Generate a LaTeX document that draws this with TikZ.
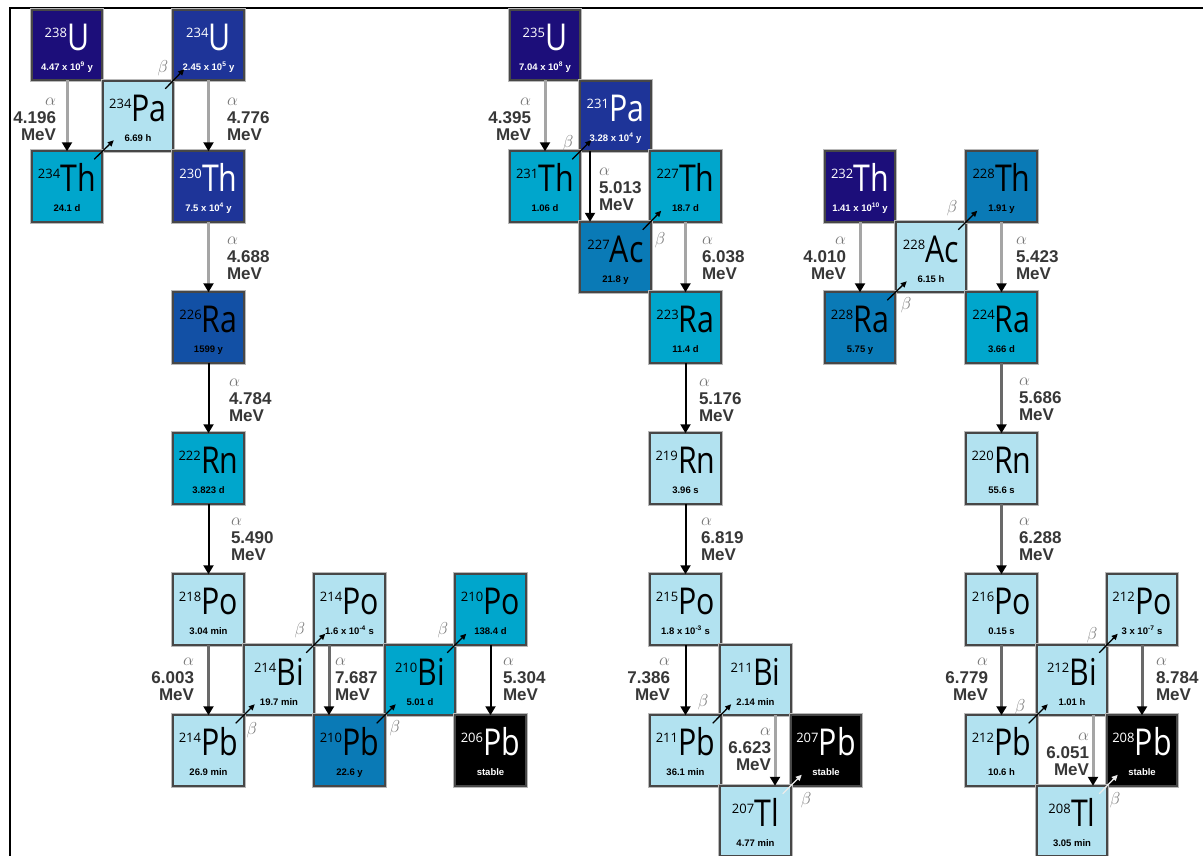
\documentclass[tikz,border=0pt]{standalone}
\usepackage{fontspec}
\setmainfont{Liberation Sans}
\newfontfamily\SymFam[FakeStretch=0.82]{Open Sans}
\newfontfamily\MassFam{Open Sans}
\usetikzlibrary{arrows.meta,calc}
\definecolor{cIndigo}{RGB}{28,14,122}
\definecolor{cRoyal}{RGB}{30,52,152}
\definecolor{cBlueRa}{RGB}{18,80,165}
\definecolor{cMed}{RGB}{10,122,182}
\definecolor{cCyan}{RGB}{0,166,204}
\definecolor{cLight}{RGB}{178,226,240}
\definecolor{cLab}{RGB}{55,55,55}
\definecolor{cGreek}{RGB}{120,120,120}
\definecolor{cArrLight}{RGB}{165,165,165}
\definecolor{cArrMid}{RGB}{105,105,105}
\definecolor{cWhiteArr}{RGB}{235,235,235}

\newcommand\SymText[2]{\raisebox{13pt}{\fontsize{13}{13}\selectfont\MassFam #1}\kern0.3pt{\fontsize{37}{37}\selectfont\SymFam #2}}
\newcommand\Nuclide[8]{%
  \node[nbox, fill=#7] (#1) at (#2,#3) {};
  \node[symtxt, text=#8] (#1-s) at ($(#1.center)+(0,5)$) {\SymText{#4}{#5}};
  \node[hltxt, text=#8] (#1-h) at ($(#1.center)+(0,25)$) {#6};}
\newcommand\ALab[6]{%
  \node[alab, anchor=#4, align=#5] (#1) at (#2,#3) {{\color{cGreek}\fontsize{16}{16}\selectfont$\alpha$}\\[1pt]#6\\MeV};}
\newcommand\HL[3]{#1 x 10\textsuperscript{#2}#3}

\tikzset{
  nbox/.style={rectangle, minimum width=70.5pt, minimum height=70.5pt, inner sep=0pt, outer sep=0pt,
    draw=black!72, line width=1.6pt, preaction={draw=gray!55, line width=3.8pt}},
  symtxt/.style={anchor=base, inner sep=0pt, outer sep=0pt},
  hltxt/.style={anchor=base, inner sep=0pt, outer sep=0pt, font=\fontsize{9.5}{9.5}\selectfont\bfseries},
  alab/.style={inner sep=0pt, outer sep=0pt, text=cLab, font=\fontsize{17}{17}\selectfont\bfseries},
  blab/.style={inner sep=0pt, outer sep=0pt, text=cGreek, font=\fontsize{16}{16}\selectfont},
  aarr/.style={-{Triangle[width=10pt,length=9pt,color=black]}, line width=3pt},
  agl/.style={aarr, draw=cArrLight},
  agm/.style={aarr, draw=cArrMid},
  agb/.style={aarr, draw=black, line width=2pt},
  barr/.style={-{Triangle[width=5.5pt,length=6pt]}, line width=1.3pt, draw=black},
  bwarr/.style={-{Triangle[width=5.5pt,length=6pt,color=cWhiteArr]}, line width=1.3pt, draw=cWhiteArr},
}

\begin{document}
\begin{tikzpicture}[x=1pt, y=-1pt]
\useasboundingbox (0,0) rectangle (1203,855);
\fill[white] (0,0) rectangle (1203,855);
\draw[line width=2pt] (10,856) -- (10,8) -- (1204,8);

% ---- chain 1 (U-238)
\Nuclide{U238}{67}{45}{238}{U}{\HL{4.47}{9}{ y}}{cIndigo}{white}
\Nuclide{Pa234}{138}{116}{234}{Pa}{6.69 h}{cLight}{black}
\Nuclide{U234}{208.5}{45}{234}{U}{\HL{2.45}{5}{ y}}{cRoyal}{white}
\Nuclide{Th234}{67}{186.5}{234}{Th}{24.1 d}{cCyan}{black}
\Nuclide{Th230}{208.5}{186.5}{230}{Th}{\HL{7.5}{4}{ y}}{cRoyal}{white}
\Nuclide{Ra226}{208.5}{327.5}{226}{Ra}{1599 y}{cBlueRa}{black}
\Nuclide{Rn222}{208.5}{468.5}{222}{Rn}{3.823 d}{cCyan}{black}
\Nuclide{Po218}{208.5}{609.5}{218}{Po}{3.04 min}{cLight}{black}
\Nuclide{Bi214}{279}{680}{214}{Bi}{19.7 min}{cLight}{black}
\Nuclide{Po214}{349.5}{609.5}{214}{Po}{\HL{1.6}{-4}{ s}}{cLight}{black}
\Nuclide{Bi210}{420}{680}{210}{Bi}{5.01 d}{cCyan}{black}
\Nuclide{Po210}{490.5}{609.5}{210}{Po}{138.4 d}{cCyan}{black}
\Nuclide{Pb214}{208.5}{750.5}{214}{Pb}{26.9 min}{cLight}{black}
\Nuclide{Pb210}{349.5}{750.5}{210}{Pb}{22.6 y}{cMed}{black}
\Nuclide{Pb206}{490.5}{750.5}{206}{Pb}{stable}{black}{white}

% ---- chain 2 (U-235)
\Nuclide{U235}{545}{45}{235}{U}{\HL{7.04}{8}{ y}}{cIndigo}{white}
\Nuclide{Pa231}{615.5}{116}{231}{Pa}{\HL{3.28}{4}{ y}}{cRoyal}{white}
\Nuclide{Th231}{545}{186.5}{231}{Th}{1.06 d}{cCyan}{black}
\Nuclide{Th227}{685.5}{186.5}{227}{Th}{18.7 d}{cCyan}{black}
\Nuclide{Ac227}{615.5}{257}{227}{Ac}{21.8 y}{cMed}{black}
\Nuclide{Ra223}{685.5}{327.5}{223}{Ra}{11.4 d}{cCyan}{black}
\Nuclide{Rn219}{685.5}{468.5}{219}{Rn}{3.96 s}{cLight}{black}
\Nuclide{Po215}{685.5}{609.5}{215}{Po}{\HL{1.8}{-3}{ s}}{cLight}{black}
\Nuclide{Bi211}{755.5}{680}{211}{Bi}{2.14 min}{cLight}{black}
\Nuclide{Pb211}{685.5}{750.5}{211}{Pb}{36.1 min}{cLight}{black}
\Nuclide{Pb207}{826}{750.5}{207}{Pb}{stable}{black}{white}
\Nuclide{Tl207}{755.5}{821}{207}{Tl}{4.77 min}{cLight}{black}

% ---- chain 3 (Th-232)
\Nuclide{Th232}{860}{186.5}{232}{Th}{\HL{1.41}{10}{ y}}{cIndigo}{white}
\Nuclide{Ac228}{931}{257}{228}{Ac}{6.15 h}{cLight}{black}
\Nuclide{Th228}{1001.5}{186.5}{228}{Th}{1.91 y}{cMed}{black}
\Nuclide{Ra228}{860}{327.5}{228}{Ra}{5.75 y}{cMed}{black}
\Nuclide{Ra224}{1001.5}{327.5}{224}{Ra}{3.66 d}{cCyan}{black}
\Nuclide{Rn220}{1001.5}{468.5}{220}{Rn}{55.6 s}{cLight}{black}
\Nuclide{Po216}{1001.5}{609.5}{216}{Po}{0.15 s}{cLight}{black}
\Nuclide{Bi212}{1072}{680}{212}{Bi}{1.01 h}{cLight}{black}
\Nuclide{Po212}{1142}{609.5}{212}{Po}{\HL{3}{-7}{ s}}{cLight}{black}
\Nuclide{Pb212}{1001.5}{750.5}{212}{Pb}{10.6 h}{cLight}{black}
\Nuclide{Pb208}{1142}{750.5}{208}{Pb}{stable}{black}{white}
\Nuclide{Tl208}{1072}{821}{208}{Tl}{3.05 min}{cLight}{black}

% ---- alpha decays
\draw[agl] (U238.south) -- (Th234.north);
\draw[agl] (U234.south) -- (Th230.north);
\draw[agl] (Th230.south) -- (Ra226.north);
\draw[agb] (Ra226.south) -- (Rn222.north);
\draw[agb] (Rn222.south) -- (Po218.north);
\draw[agm] (Po218.south) -- (Pb214.north);
\draw[agm] ([xshift=-20.5pt]Po214.south) -- ([xshift=-20.5pt]Pb210.north);
\draw[agb] (Po210.south) -- (Pb206.north);

\draw[agl] (U235.south) -- (Th231.north);
\draw[agb] ([xshift=-25.5pt]Pa231.south) -- ([xshift=-25.5pt]Ac227.north);
\draw[agl] (Th227.south) -- (Ra223.north);
\draw[agb] (Ra223.south) -- (Rn219.north);
\draw[agb] (Rn219.south) -- (Po215.north);
\draw[agb] (Po215.south) -- (Pb211.north);
\draw[agl] ([xshift=19.5pt]Bi211.south) -- ([xshift=19.5pt]Tl207.north);

\draw[agl] (Th232.south) -- (Ra228.north);
\draw[agl] (Th228.south) -- (Ra224.north);
\draw[agm] (Ra224.south) -- (Rn220.north);
\draw[agm] (Rn220.south) -- (Po216.north);
\draw[agm] (Po216.south) -- (Pb212.north);
\draw[agm] (Po212.south) -- (Pb208.north);
\draw[agl] ([xshift=21pt]Bi212.south) -- ([xshift=21pt]Tl208.north);

% ---- alpha labels
\ALab{a1}{56}{119}{east}{right}{4.196}
\ALab{a2}{227}{119}{west}{left}{4.776}
\ALab{a3}{227}{258}{west}{left}{4.688}
\ALab{a4}{229}{400}{west}{left}{4.784}
\ALab{a5}{231}{539}{west}{left}{5.490}
\ALab{a6}{194}{679}{east}{right}{6.003}
\ALab{a7}{335}{679}{west}{left}{7.687}
\ALab{a8}{503}{679}{west}{left}{5.304}
\ALab{a9}{531}{119}{east}{right}{4.395}
\ALab{a10}{599}{189}{west}{left}{5.013}
\ALab{a11}{702}{258}{west}{left}{6.038}
\ALab{a12}{699}{400}{west}{left}{5.176}
\ALab{a13}{701}{539}{west}{left}{6.819}
\ALab{a14}{670}{679}{east}{right}{7.386}
\ALab{a15}{771}{749}{east}{right}{6.623}
\ALab{a16}{846}{258}{east}{right}{4.010}
\ALab{a17}{1016}{258}{west}{left}{5.423}
\ALab{a18}{1019}{399}{west}{left}{5.686}
\ALab{a19}{1019}{539}{west}{left}{6.288}
\ALab{a20}{988}{679}{east}{right}{6.779}
\ALab{a21}{1156}{679}{west}{left}{8.784}
\ALab{a22}{1089}{754}{east}{right}{6.051}

% ---- beta decays
\draw[barr] ($(Th234.north east)+(-8,8)$) -- ($(Pa234.south west)+(11,-11)$);
\draw[barr] ($(Pa234.north east)+(-8,8)$) -- ($(U234.south west)+(11,-11)$);
\draw[barr] ($(Pb214.north east)+(-8,8)$) -- ($(Bi214.south west)+(11,-11)$);
\draw[barr] ($(Bi214.north east)+(-8,8)$) -- ($(Po214.south west)+(11,-11)$);
\draw[barr] ($(Pb210.north east)+(-8,8)$) -- ($(Bi210.south west)+(11,-11)$);
\draw[barr] ($(Bi210.north east)+(-8,8)$) -- ($(Po210.south west)+(11,-11)$);
\draw[barr] ($(Th231.north east)+(-8,8)$) -- ($(Pa231.south west)+(11,-11)$);
\draw[barr] ($(Ac227.north east)+(-8,8)$) -- ($(Th227.south west)+(11,-11)$);
\draw[barr] ($(Pb211.north east)+(-8,8)$) -- ($(Bi211.south west)+(11,-11)$);
\draw[bwarr] ($(Tl207.north east)+(-8,8)$) -- ($(Pb207.south west)+(11,-11)$);
\draw[barr] ($(Ra228.north east)+(-8,8)$) -- ($(Ac228.south west)+(11,-11)$);
\draw[barr] ($(Ac228.north east)+(-8,8)$) -- ($(Th228.south west)+(11,-11)$);
\draw[barr] ($(Pb212.north east)+(-8,8)$) -- ($(Bi212.south west)+(11,-11)$);
\draw[barr] ($(Bi212.north east)+(-8,8)$) -- ($(Po212.south west)+(11,-11)$);
\draw[bwarr] ($(Tl208.north east)+(-8,8)$) -- ($(Pb208.south west)+(11,-11)$);

% ---- beta labels
\node[blab] (b1) at (163,68) {$\beta$};
\node[blab] (b2) at (252,730) {$\beta$};
\node[blab] (b3) at (300,630) {$\beta$};
\node[blab] (b4) at (395,728) {$\beta$};
\node[blab] (b5) at (443,630) {$\beta$};
\node[blab] (b6) at (568,143) {$\beta$};
\node[blab] (b7) at (660,240) {$\beta$};
\node[blab] (b8) at (703,702) {$\beta$};
\node[blab] (b9) at (806,800) {$\beta$};
\node[blab] (b10) at (906,305) {$\beta$};
\node[blab] (b11) at (952,208) {$\beta$};
\node[blab] (b12) at (1020,707) {$\beta$};
\node[blab] (b13) at (1092,635) {$\beta$};
\node[blab] (b14) at (1115,800) {$\beta$};
\end{tikzpicture}
\end{document}
